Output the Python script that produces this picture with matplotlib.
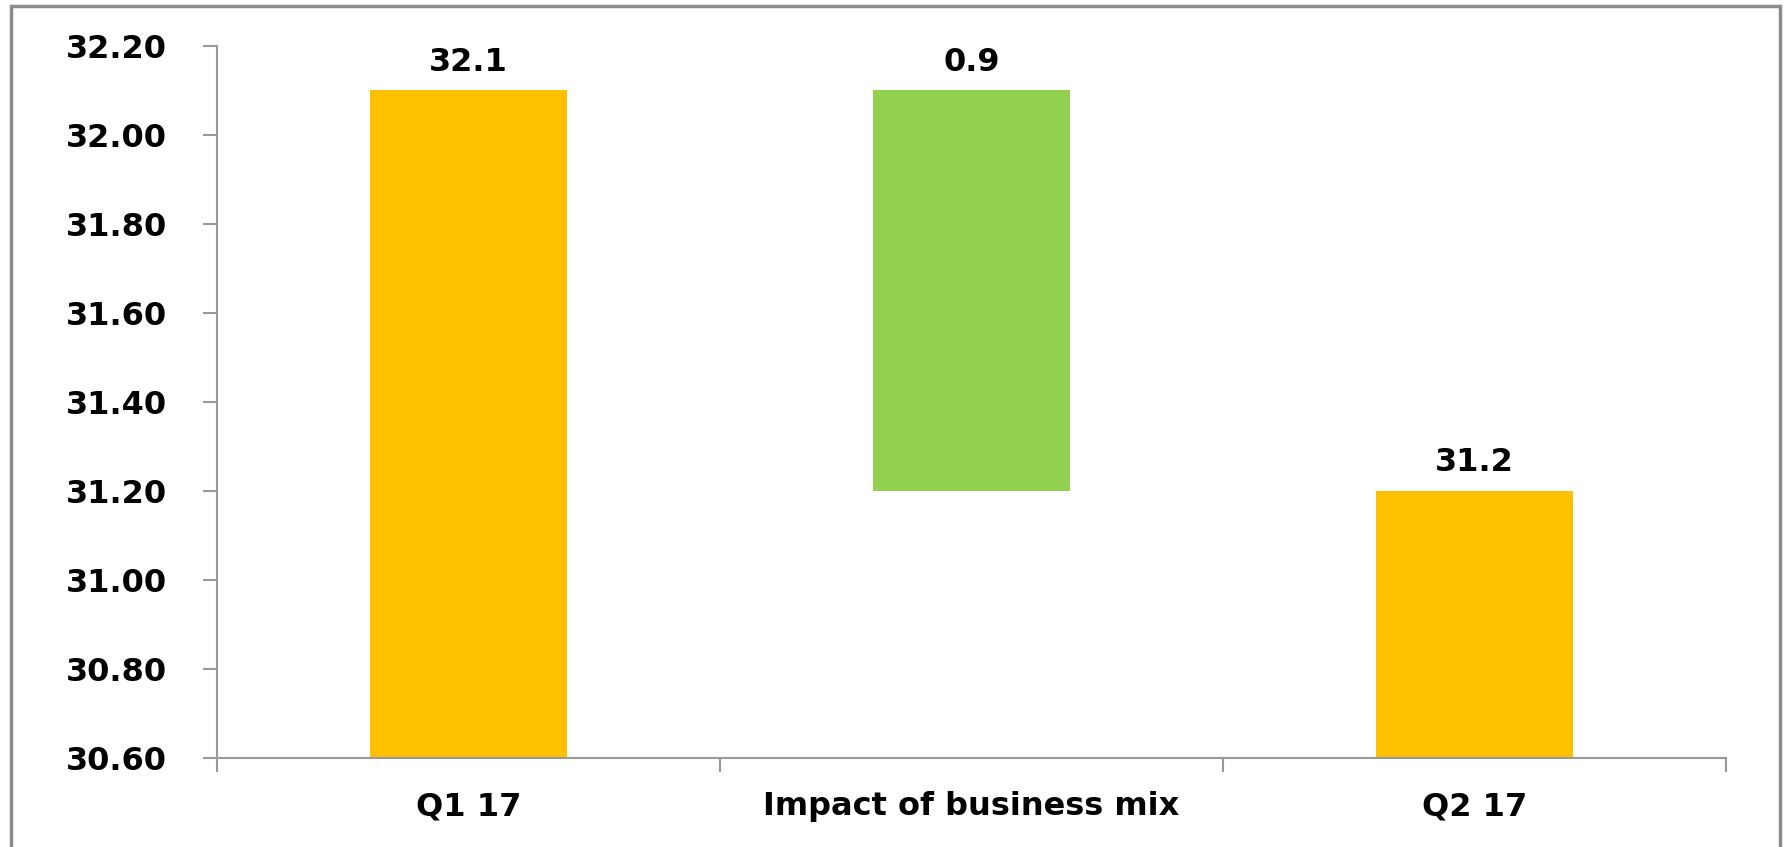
import numpy as np
import matplotlib.pyplot as plt
from matplotlib.patches import Rectangle

categories = ["Q1 17", "Impact of business mix", "Q2 17"]
start_value = 32.1
change = -0.9
end_value = 31.2
labels = ["32.1", "0.9", "31.2"]
yticks = [30.6, 30.8, 31.0, 31.2, 31.4, 31.6, 31.8, 32.0, 32.2]

orange = "#FFC000"
green = "#92D050"
gray = "#999999"

fig = plt.figure(figsize=(17.86, 8.47), dpi=100)
ax = fig.add_axes([0.1215, 0.1051, 0.8449, 0.8406])

x = np.arange(len(categories)) + 0.5
bottoms = [0, end_value, 0]
heights = [start_value, -change, end_value]
colors = [orange, green, orange]
ax.bar(x, heights, bottom=bottoms, width=0.39, color=colors)

for xi, b, h, lab in zip(x, bottoms, heights, labels):
    ax.annotate(lab, (xi, b + h), xytext=(0, 9), textcoords="offset points",
                ha="center", va="bottom", fontsize=23, fontweight="bold")

ax.set_xlim(0, 3)
ax.set_ylim(30.6, 32.2)
ax.set_yticks(yticks)
ax.set_yticklabels([f"{v:.2f}" for v in yticks])
ax.set_xticks([0, 1, 2, 3])
ax.set_xticklabels([])
ax.set_xticks(x, minor=True)
ax.set_xticklabels(categories, minor=True)

for s in ["top", "right"]:
    ax.spines[s].set_visible(False)
for s in ["left", "bottom"]:
    ax.spines[s].set_color(gray)
    ax.spines[s].set_linewidth(1.5)

ax.tick_params(axis="y", which="major", length=10, width=1.5, color=gray,
               pad=26, labelsize=23)
ax.tick_params(axis="x", which="major", length=10, width=1.5, color=gray)
ax.tick_params(axis="x", which="minor", length=0, pad=24, labelsize=23)
for t in ax.get_yticklabels() + ax.get_xticklabels(minor=True):
    t.set_fontweight("bold")

fig.patches.append(Rectangle((11 / 1786, -0.02), (1780 - 11) / 1786, 1.02 - 6 / 847,
                             transform=fig.transFigure, fill=False,
                             edgecolor="#8c8c8c", linewidth=2.5))

fig.savefig("out.png", dpi=100)
